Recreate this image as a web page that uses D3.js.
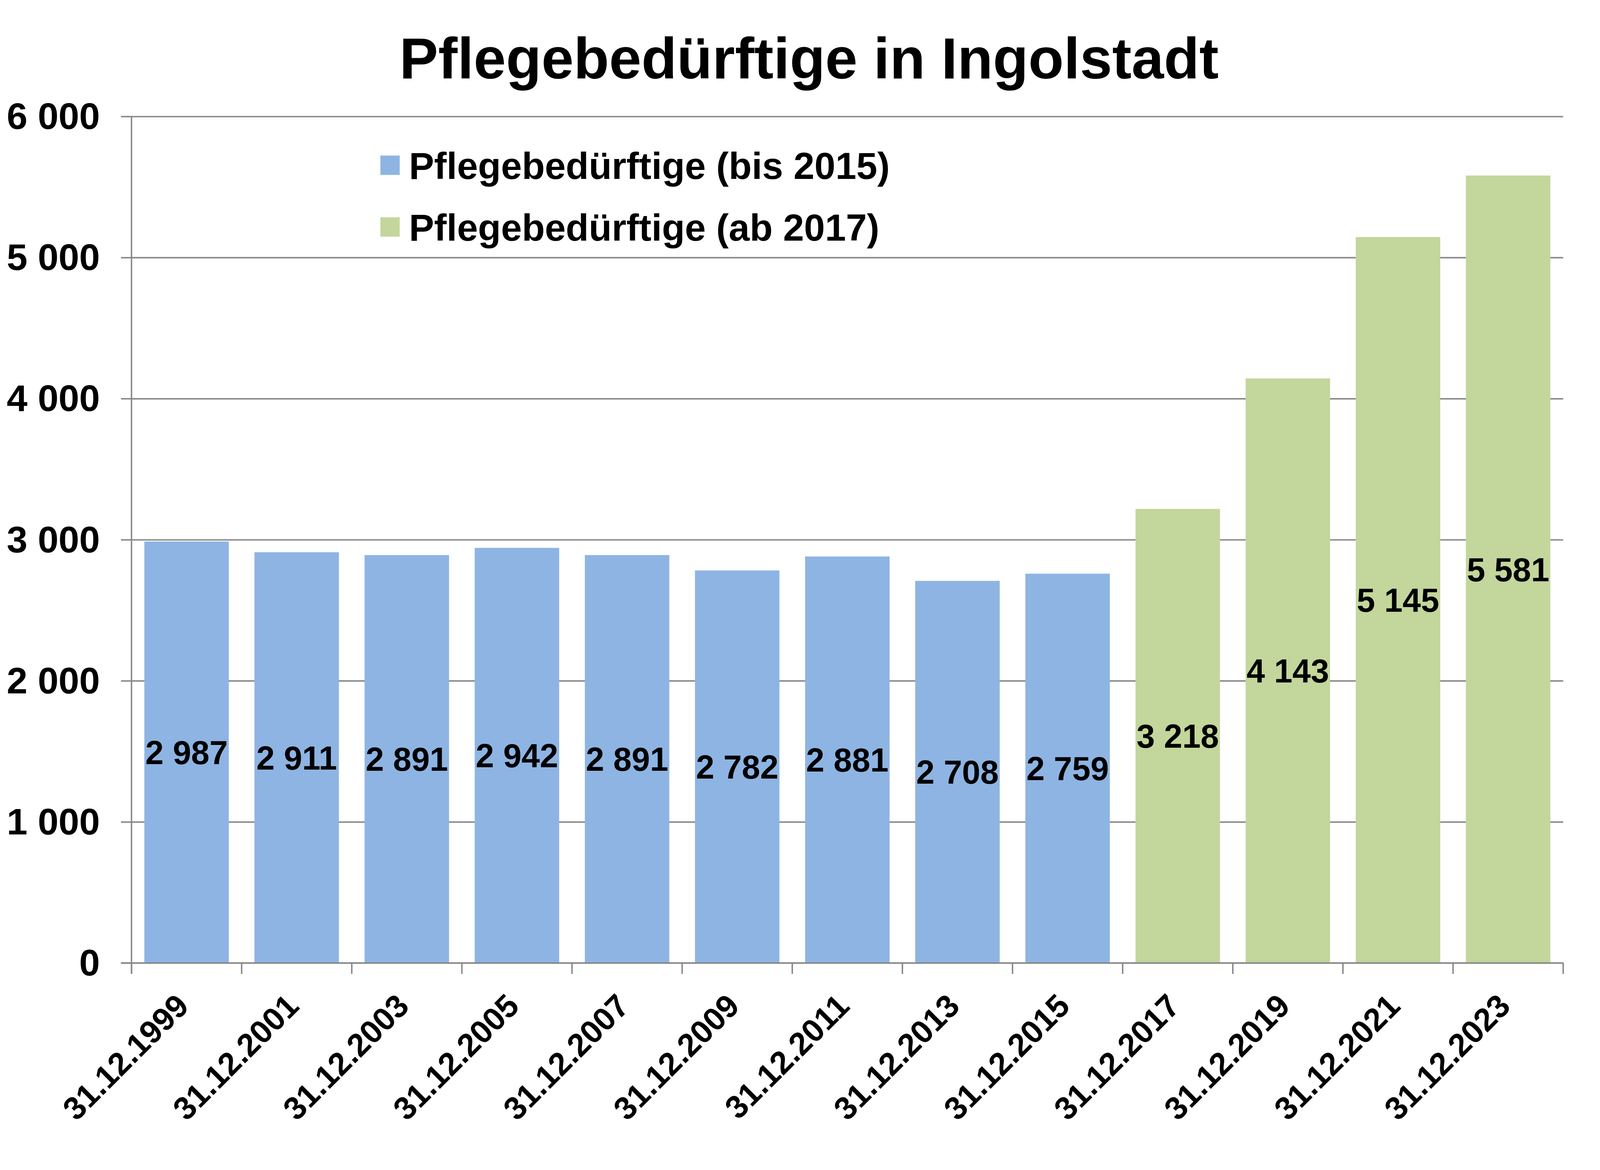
<!DOCTYPE html>
<html>
<head>
<meta charset="utf-8">
<script src="https://cdn.jsdelivr.net/npm/d3@7"></script>
<style>
  html, body { margin: 0; padding: 0; background: #fff; overflow: hidden; }
  svg { display: block; }
  text { font-family: "Liberation Sans", Arial, sans-serif; font-weight: bold; fill: #000; }
</style>
</head>
<body>
<div id="chart"></div>
<script>
// Chart data
var categories = ["31.12.1999", "31.12.2001", "31.12.2003", "31.12.2005", "31.12.2007", "31.12.2009",
    "31.12.2011", "31.12.2013", "31.12.2015", "31.12.2017", "31.12.2019", "31.12.2021", "31.12.2023"];
var seriesNames = ["Pflegebedürftige (bis 2015)", "Pflegebedürftige (ab 2017)"];
var valuesBis2015 = [2987, 2911, 2891, 2942, 2891, 2782, 2881, 2708, 2759, null, null, null, null];
var valuesAb2017 = [null, null, null, null, null, null, null, null, null, 3218, 4143, 5145, 5581];
var yTicks = [0, 1000, 2000, 3000, 4000, 5000, 6000];
var titleText = "Pflegebedürftige in Ingolstadt";

function createBarChart(container_name) {
    // layout is measured on a 4867x2995 canvas, then fitted to the real window
    var baseW = 4867, baseH = 2995;
    var width = window.innerWidth || baseW, height = window.innerHeight || baseH;
    var sx = width / baseW, sy = height / baseH;
    var fs = Math.sqrt(sx * sy);   // text scale, keeps glyphs undistorted
    function X(v) { return v * sx; }
    function Y(v) { return v * sy; }

    var svg = d3.select(container_name).append("svg")
        .attr("width", width)
        .attr("height", height);

    var left = X(400), right = X(4755), top = Y(298), bottom = Y(2465);
    var gridColor = "#878787";
    var lineW = 4 * fs;
    var colors = ["#8EB4E3", "#C3D69B"];

    // German style thousands separator
    var fmt = d3.formatLocale({ decimal: ",", thousands: " ", grouping: [3], currency: ["", "€"] }).format(",d");

    var x = d3.scaleBand().domain(categories).range([left, right])
        .paddingInner(0.233).paddingOuter(0.1165);
    var y = d3.scaleLinear().domain([0, 6000]).range([bottom, top]);

    // Gridlines
    svg.append("g")
        .attr("transform", "translate(" + left + ",0)")
        .call(d3.axisLeft(y).tickValues(yTicks).tickSize(-(right - left)).tickFormat(""))
        .call(function (g) {
            g.select(".domain").remove();
            g.selectAll("line").attr("stroke", gridColor).attr("stroke-width", lineW);
        });

    // Y axis with outward ticks and labels
    svg.append("g")
        .attr("transform", "translate(" + left + ",0)")
        .call(d3.axisLeft(y).tickValues(yTicks).tickSize(X(32)).tickPadding(X(64)).tickFormat(fmt))
        .call(function (g) {
            g.select(".domain").remove();
            g.selectAll("line").attr("stroke", gridColor).attr("stroke-width", lineW);
            g.selectAll("text")
                .attr("dy", "0.33em")
                .style("font-size", (104 * fs) + "px")
                .style("font-family", "'Liberation Sans', Arial, sans-serif")
                .style("font-weight", "bold")
                .attr("fill", "#000");
        });

    // Bars for both series
    var series = [valuesBis2015, valuesAb2017];
    series.forEach(function (vals, si) {
        var data = categories.map(function (c, i) { return { cat: c, v: vals[i] }; })
            .filter(function (d) { return d.v != null; });

        svg.append("g").selectAll("rect")
            .data(data).enter().append("rect")
            .attr("x", function (d) { return x(d.cat); })
            .attr("y", function (d) { return y(d.v); })
            .attr("width", x.bandwidth())
            .attr("height", function (d) { return y(0) - y(d.v); })
            .attr("fill", colors[si]);

        // value labels centred in the bar
        svg.append("g").selectAll("text")
            .data(data).enter().append("text")
            .attr("x", function (d) { return x(d.cat) + x.bandwidth() / 2; })
            .attr("y", function (d) { return (y(d.v) + y(0)) / 2; })
            .attr("dy", "0.36em")
            .style("text-anchor", "middle")
            .style("font-size", (92 * fs) + "px")
            .text(function (d) { return fmt(d.v); });
    });

    // Axis lines
    svg.append("line")
        .attr("x1", left).attr("x2", left)
        .attr("y1", top).attr("y2", bottom + Y(28))
        .attr("stroke", gridColor).attr("stroke-width", lineW);
    svg.append("line")
        .attr("x1", left - X(32)).attr("x2", right)
        .attr("y1", bottom).attr("y2", bottom)
        .attr("stroke", gridColor).attr("stroke-width", lineW);

    // Category boundary ticks
    var gap = (x.step() - x.bandwidth()) / 2;
    var bounds = categories.map(function (c) { return x(c) - gap; });
    bounds.push(x(categories[categories.length - 1]) + x.bandwidth() + gap);
    svg.append("g").selectAll("line")
        .data(bounds).enter().append("line")
        .attr("x1", function (d) { return d; }).attr("x2", function (d) { return d; })
        .attr("y1", bottom).attr("y2", bottom + Y(28))
        .attr("stroke", gridColor).attr("stroke-width", lineW);

    // Rotated category labels
    svg.append("g").selectAll("text")
        .data(categories).enter().append("text")
        .attr("transform", function (d) {
            return "translate(" + (x(d) + x.bandwidth() / 2 + X(12)) + "," + (bottom + Y(115)) + ") rotate(-45)";
        })
        .style("text-anchor", "end")
        .style("font-size", (90 * fs) + "px")
        .text(function (d) { return d; });

    // Title
    svg.append("text")
        .attr("x", X(2461))
        .attr("y", Y(201))
        .style("text-anchor", "middle")
        .style("font-size", (162 * fs) + "px")
        .text(titleText);

    // Legend
    var sq = 54 * fs;
    var legend = svg.append("g").selectAll("g")
        .data(seriesNames).enter().append("g")
        .attr("transform", function (d, i) { return "translate(" + X(1157) + "," + Y(423 + i * 158) + ")"; });
    legend.append("rect")
        .attr("y", -sq / 2)
        .attr("width", sq).attr("height", sq)
        .attr("fill", function (d, i) { return colors[i]; });
    legend.append("text")
        .attr("x", X(87))
        .attr("y", Y(35))
        .style("font-size", (105 * fs) + "px")
        .text(function (d) { return d; });
}

createBarChart("#chart");
</script>
</body>
</html>
